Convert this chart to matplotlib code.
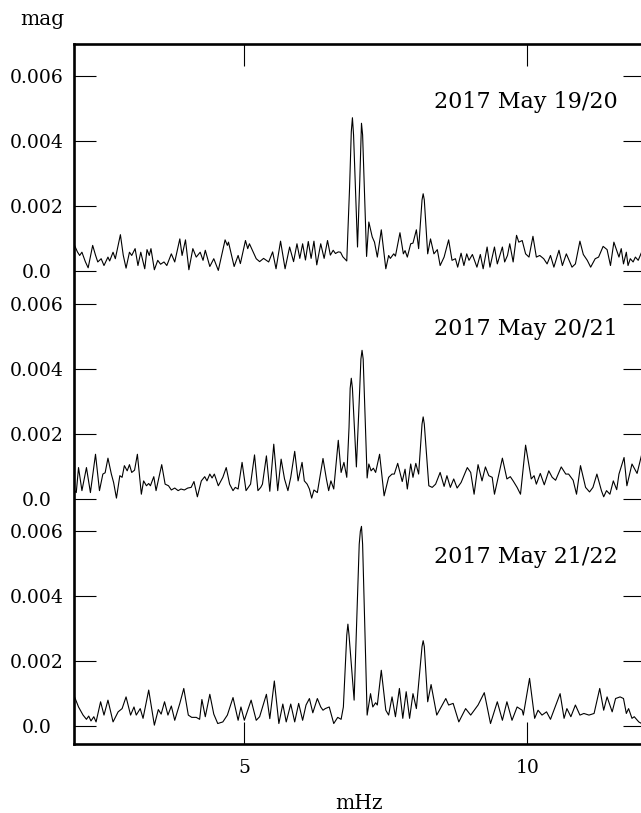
import matplotlib
matplotlib.use("Agg")
import matplotlib.pyplot as plt
import numpy as np

# ---------------- data (amplitudes in units of 0.001 mag) ----------------
freq_1 = [2.00,2.05,2.09,2.13,2.19,2.24,2.32,2.37,2.41,2.47,2.52,2.59,2.62,2.68,2.72,2.81,2.86,2.91,2.97,3.01,
          3.07,3.12,3.17,3.24,3.28,3.32,3.35,3.41,3.47,3.52,3.58,3.63,3.71,3.77,3.86,3.90,3.96,4.02,4.09,4.15,
          4.22,4.27,4.31,4.39,4.46,4.54,4.66,4.70,4.72,4.82,4.89,4.93,5.02,5.06,5.09,5.21,5.27,5.34,5.43,5.50,
          5.56,5.64,5.72,5.80,5.87,5.93,5.98,6.03,6.08,6.13,6.18,6.23,6.28,6.35,6.41,6.47,6.52,6.57,6.61,6.66,
          6.70,6.74,6.81,6.86,6.89,6.91,6.93,7.00,7.04,7.07,7.09,7.16,7.20,7.26,7.30,7.35,7.42,7.50,7.55,7.58,
          7.64,7.67,7.75,7.81,7.84,7.88,7.94,7.98,8.04,8.08,8.14,8.16,8.18,8.24,8.29,8.35,8.41,8.46,8.53,8.61,
          8.67,8.73,8.77,8.83,8.88,8.93,8.97,9.03,9.11,9.17,9.22,9.29,9.34,9.42,9.47,9.56,9.60,9.65,9.69,9.75,
          9.81,9.85,9.91,9.97,10.03,10.10,10.16,10.22,10.29,10.35,10.41,10.47,10.56,10.62,10.69,10.75,10.79,10.85,10.93,10.99,
          11.06,11.12,11.20,11.26,11.34,11.41,11.47,11.53,11.59,11.62,11.66,11.70,11.75,11.78,11.82,11.87,11.91,11.96,12.02,12.10]
amp_1 = [0.80,0.60,0.49,0.59,0.30,0.11,0.80,0.50,0.29,0.39,0.18,0.44,0.32,0.59,0.39,1.13,0.50,0.10,0.59,0.49,
         0.70,0.18,0.59,0.08,0.67,0.49,0.70,0.05,0.34,0.22,0.29,0.18,0.54,0.29,1.00,0.49,0.97,0.05,0.70,0.44,
         0.59,0.34,0.65,0.15,0.39,0.03,0.97,0.80,0.90,0.15,0.49,0.24,0.95,0.70,0.85,0.39,0.30,0.40,0.29,0.60,
         0.08,0.93,0.08,0.75,0.30,0.85,0.40,0.85,0.35,0.92,0.40,0.93,0.20,0.85,0.40,0.95,0.50,0.65,0.55,0.60,
         0.59,0.45,0.32,2.60,4.30,4.73,4.20,0.75,2.80,4.56,4.20,0.46,1.52,1.06,0.90,0.44,1.28,0.08,0.49,0.40,
         0.54,0.47,1.19,0.54,0.64,0.44,0.85,0.87,1.28,0.70,2.20,2.39,2.20,0.54,1.00,0.54,0.67,0.18,0.44,0.97,
         0.34,0.39,0.13,0.56,0.18,0.54,0.34,0.52,0.13,0.52,0.08,0.75,0.13,0.75,0.23,0.75,0.29,0.49,0.85,0.29,
         1.11,0.90,0.95,0.54,0.44,1.08,0.44,0.49,0.39,0.23,0.49,0.13,0.65,0.18,0.54,0.29,0.13,0.23,0.93,0.52,
         0.34,0.13,0.39,0.44,0.77,0.67,0.18,0.90,0.59,0.44,0.70,0.23,0.59,0.18,0.39,0.29,0.44,0.34,0.59,0.50]

freq_2 = [2.00,2.03,2.07,2.13,2.21,2.28,2.37,2.44,2.50,2.54,2.59,2.65,2.69,2.74,2.80,2.84,2.88,2.93,2.97,3.01,
          3.06,3.11,3.18,3.22,3.27,3.31,3.34,3.40,3.44,3.54,3.60,3.66,3.71,3.77,3.83,3.88,3.94,4.00,4.06,4.11,
          4.17,4.24,4.30,4.34,4.39,4.43,4.47,4.52,4.54,4.62,4.68,4.74,4.80,4.84,4.89,4.96,5.03,5.11,5.18,5.24,
          5.29,5.32,5.39,5.45,5.52,5.59,5.65,5.71,5.77,5.82,5.89,5.95,6.02,6.06,6.11,6.15,6.19,6.23,6.29,6.39,
          6.45,6.49,6.53,6.58,6.66,6.71,6.76,6.81,6.85,6.87,6.89,6.91,6.98,7.03,7.06,7.08,7.10,7.17,7.20,7.24,
          7.28,7.32,7.39,7.47,7.55,7.61,7.65,7.71,7.79,7.84,7.88,7.94,7.98,8.03,8.08,8.14,8.16,8.18,8.26,8.32,
          8.38,8.46,8.53,8.58,8.64,8.70,8.76,8.83,8.94,9.00,9.06,9.13,9.20,9.26,9.32,9.38,9.42,9.56,9.64,9.70,
          9.75,9.82,9.88,9.97,10.07,10.12,10.16,10.23,10.30,10.38,10.44,10.50,10.60,10.68,10.73,10.81,10.87,10.94,11.03,11.10,
          11.16,11.23,11.31,11.35,11.40,11.46,11.52,11.58,11.62,11.71,11.76,11.85,11.94,12.02,12.10]
amp_2 = [0.25,0.19,0.96,0.25,0.96,0.19,1.37,0.25,0.76,0.80,1.25,0.76,0.50,0.02,0.71,0.66,1.02,0.86,1.05,0.81,
         0.88,1.37,0.14,0.55,0.40,0.47,0.40,0.68,0.25,1.05,0.45,0.40,0.27,0.33,0.25,0.30,0.27,0.33,0.35,0.53,
         0.06,0.55,0.68,0.55,0.76,0.64,0.76,0.50,0.40,0.66,0.96,0.45,0.25,0.35,0.30,1.12,0.25,0.45,1.35,0.25,
         0.35,0.45,1.32,0.23,1.68,0.25,1.22,0.61,0.25,0.66,1.46,0.55,1.12,0.55,0.45,0.30,0.02,0.27,0.19,1.24,
         0.61,0.25,0.55,0.30,1.80,0.81,1.12,0.66,2.20,3.40,3.71,3.40,0.98,3.00,4.30,4.57,4.30,0.64,1.07,0.86,
         0.94,0.81,1.37,0.09,0.66,0.76,0.76,1.09,0.53,0.91,0.30,1.07,0.66,1.09,0.76,2.30,2.52,2.30,0.40,0.35,
         0.45,0.81,0.38,0.71,0.35,0.61,0.33,0.50,0.96,0.81,0.14,1.05,0.55,0.98,0.71,0.66,0.14,1.25,0.61,0.68,
         0.55,0.35,0.14,1.65,0.61,0.71,0.45,0.78,0.43,0.86,0.66,0.57,0.98,0.76,0.76,0.57,0.14,1.02,0.35,0.21,
         0.35,0.76,0.25,0.06,0.25,0.14,0.55,0.28,0.76,1.27,0.40,1.07,0.78,1.35,1.00]

freq_3 = [2.00,2.07,2.15,2.21,2.25,2.29,2.34,2.38,2.46,2.52,2.59,2.68,2.77,2.84,2.91,2.99,3.05,3.09,3.16,3.21,
          3.31,3.41,3.48,3.53,3.59,3.65,3.71,3.77,3.86,3.93,4.01,4.07,4.15,4.21,4.25,4.31,4.39,4.46,4.53,4.62,
          4.70,4.80,4.89,4.94,5.00,5.12,5.21,5.27,5.39,5.45,5.53,5.61,5.68,5.74,5.82,5.89,5.96,6.03,6.09,6.15,
          6.21,6.29,6.35,6.39,6.43,6.50,6.58,6.65,6.71,6.75,6.81,6.83,6.85,6.94,7.03,7.05,7.07,7.09,7.17,7.23,
          7.27,7.32,7.35,7.42,7.50,7.55,7.61,7.67,7.74,7.80,7.86,7.92,7.98,8.04,8.14,8.16,8.18,8.24,8.30,8.40,
          8.56,8.61,8.69,8.79,8.91,9.00,9.13,9.24,9.35,9.47,9.56,9.64,9.73,9.82,9.91,9.93,10.04,10.13,10.19,10.26,
          10.34,10.41,10.58,10.65,10.70,10.77,10.85,10.93,11.00,11.09,11.18,11.28,11.35,11.41,11.50,11.56,11.64,11.70,11.75,11.79,
          11.85,11.89,11.97,12.02,12.10]
amp_3 = [0.90,0.59,0.34,0.21,0.31,0.16,0.29,0.13,0.75,0.34,0.80,0.13,0.44,0.54,0.90,0.34,0.59,0.34,0.54,0.24,
         1.11,0.03,0.51,0.37,0.75,0.34,0.62,0.18,0.70,1.16,0.34,0.27,0.27,0.21,0.82,0.29,0.98,0.37,0.08,0.13,
         0.34,0.88,0.18,0.59,0.18,0.80,0.18,0.29,0.98,0.23,1.39,0.08,0.68,0.13,0.68,0.13,0.70,0.18,0.65,0.85,
         0.41,0.85,0.59,0.49,0.54,0.59,0.08,0.27,0.21,0.59,2.80,3.14,2.80,0.80,5.60,6.00,6.15,5.60,0.34,1.00,
         0.59,0.72,0.65,1.72,0.49,0.34,0.90,0.29,1.16,0.24,1.06,0.24,1.00,0.54,2.45,2.63,2.45,0.75,1.28,0.34,
         0.85,0.65,0.70,0.13,0.54,0.34,0.65,1.03,0.08,0.75,0.18,0.75,0.18,0.59,0.49,0.34,1.47,0.24,0.49,0.34,
         0.44,0.21,1.00,0.24,0.54,0.29,0.65,0.34,0.39,0.34,0.39,1.16,0.49,0.90,0.44,0.85,0.90,0.85,0.39,0.54,
         0.24,0.29,0.13,0.08,0.10]

panel_labels = ["2017 May 19/20", "2017 May 20/21", "2017 May 21/22"]
panel_offsets = [0.014, 0.007, 0.0]          # vertical offset of each spectrum (mag)
ytick_values = [0.0, 0.002, 0.004, 0.006]
ytick_labels = ["0.0", "0.002", "0.004", "0.006"]
xtick_values = [5, 10]
xtick_labels = ["5", "10"]

# ---------------- figure ----------------
plt.rcParams['font.family'] = ['DejaVu Serif']
W, H = 641, 813
fig = plt.figure(figsize=(W / 100, H / 100), dpi=100)
ax = fig.add_axes([74 / W, (813 - 744) / H, (645 - 74) / W, (744 - 44) / H])

freqs = [freq_1, freq_2, freq_3]
amps = [amp_1, amp_2, amp_3]
for f, a, off in zip(freqs, amps, panel_offsets):
    ax.plot(f, np.array(a) * 1e-3 + off, color='black', lw=0.8, solid_joinstyle='round')

ax.set_xlim(1.99, 12.08)
ax.set_ylim(-0.00055, 0.021)

yt, yl = [], []
for off in panel_offsets:
    for v, l in zip(ytick_values, ytick_labels):
        yt.append(v + off)
        yl.append(l)
ax.set_yticks(yt, yl)
ax.set_xticks(xtick_values, xtick_labels)
ax.minorticks_off()

ax.tick_params(axis='both', direction='in', length=16, width=0.8, color='black',
               labelsize=13.5, top=True, right=True, labelright=False, labeltop=False)
ax.tick_params(axis='y', pad=26.6)
ax.tick_params(axis='x', pad=11)
for t in ax.get_yticklabels():
    t.set_horizontalalignment('center')

for s in ax.spines.values():
    s.set_linewidth(1.9)

for lab, off in zip(panel_labels, panel_offsets):
    ax.text(11.60, off + 0.00503, lab, ha='right', va='baseline', fontsize=16)

fig.text(42 / W, 1 - 25 / H, "mag", ha='center', va='baseline', fontsize=14.5)
fig.text(359 / W, 1 - 809 / H, "mHz", ha='center', va='baseline', fontsize=14.5)

fig.savefig("out.png", dpi=100)
